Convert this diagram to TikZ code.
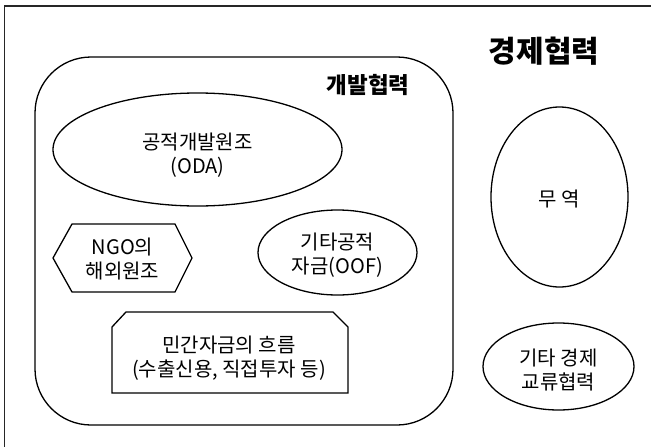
\documentclass[tikz,border=0pt]{standalone}
\usepackage{fontspec}
\setmainfont{Noto Sans CJK KR}
\usetikzlibrary{shapes.geometric,shapes.misc}
\tikzset{
  shp/.style={draw=black, line width=1.3pt},
  txt/.style={align=center, font=\fontsize{20}{24.5}\selectfont},
  ell/.style={shp, ellipse, inner sep=0pt},
}
\begin{document}
\begin{tikzpicture}[x=1pt,y=-1pt]
\useasboundingbox (0,0) rectangle (651,447);
\fill[white] (0,0) rectangle (651,447);
% outer frame (right and bottom edges lie outside the picture)
\begin{scope}
\clip (0,0) rectangle (651,447);
\draw[line width=1.8pt, draw=black!85] (4.5,470) -- (4.5,6) -- (680,6);
\end{scope}
\node[font=\bfseries\fontsize{30}{30}\selectfont] (eco) at (544,51) {경제협력};
% development cooperation
\node[shp, rounded corners=56pt, minimum width=418pt, minimum height=368pt, inner sep=0pt] (dev) at (244,241) {};
\node[font=\bfseries\fontsize{22.5}{22.5}\selectfont] (devt) at (368,85) {개발협력};
\node[ell, minimum width=289pt, minimum height=113pt] (oda) at (197.5,149.5) {};
\node[txt] (odat) at (197.5,155) {공적개발원조\\(ODA)};
\node[ell, minimum width=159pt, minimum height=85pt] (oof) at (337.5,252.5) {};
\node[txt] (ooft) at (337.5,255) {기타공적\\자금(OOF)};
% hexagon
\node[txt] (ngo) at (122.5,259) {NGO의\\해외원조};
\draw[shp] (53,258) -- (72,224) -- (175,224) -- (192,258) -- (175,292) -- (72,292) -- cycle;
% private flows
\node[txt] (priv) at (229,358) {민간자금의 흐름\\(수출신용, 직접투자 등)};
\draw[shp] (112,393) -- (112,327) -- (126,312) -- (333,312) -- (348,327) -- (348,393) -- cycle;
% trade and others
\node[ell, minimum width=137pt, minimum height=180pt] (trade) at (559.5,197) {};
\node[txt] (tradet) at (559.5,199) {무 역};
\node[ell, minimum width=151pt, minimum height=87pt] (other) at (558.5,366.5) {};
\node[txt] (othert) at (558.5,370) {기타 경제\\교류협력};
\end{tikzpicture}
\end{document}
